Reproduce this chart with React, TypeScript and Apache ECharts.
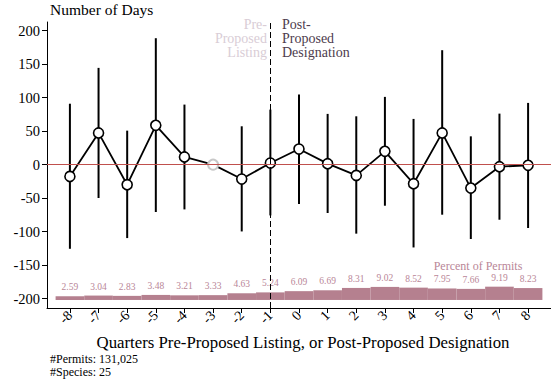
import React, { useEffect, useRef } from "react";
import * as echarts from "echarts";

// Quarters relative to the proposed listing / designation
const quarters = [-8, -7, -6, -5, -4, -3, -2, -1, 0, 1, 2, 3, 4, 5, 6, 7, 8];
// Estimated effect on number of days (quarter -3 is the reference quarter)
const meanDays = [-17.5, 47.4, -29.9, 58.8, 11.5, 0, -21.4, 2.5, 23.4, 1.5, -16, 19.9, -28.4, 47.4, -34.9, -3, -1];
const upperCI = [91, 144.5, 50.8, 188.8, 89.7, null, 57.3, 82.2, 104.6, 75.8, 72.2, 101.2, 68.3, 170.9, 42.3, 76.2, 92.2];
const lowerCI = [-125.6, -49.8, -109.6, -70.7, -66.8, null, -99.7, -75.8, -58.8, -72.2, -103, -61.3, -123.6, -74.7, -111, -82.2, -94.6];
// Share of permits falling in each quarter
const percentPermits = [2.59, 3.04, 2.83, 3.48, 3.21, 3.33, 4.63, 5.24, 6.09, 6.69, 8.31, 9.02, 8.52, 7.95, 7.66, 9.19, 8.23];
const yTicks = [-200, -150, -100, -50, 0, 50, 100, 150, 200];
const referenceQuarter = -3;
const eventQuarter = -1;

const SERIF = "serif";
const BAR_COLOR = "#b5808f";
const BAR_LABEL_COLOR = "#b98697";
// bars are drawn along the bottom of the plot, in y-axis units
const BAR_BASE = -202;
const BAR_UNIT = 2.16;

export default function App() {
  const ref = useRef<HTMLDivElement>(null);

  useEffect(() => {
    if (!ref.current) return;
    const chart = echarts.init(ref.current, null, { renderer: "svg" });

    const pointData = quarters.map((q, i) => {
      const isRef = q === referenceQuarter;
      return {
        value: [q, meanDays[i]],
        itemStyle: isRef
          ? { color: "#ffffff", borderColor: "#c8c8c8", borderWidth: 2 }
          : undefined,
      };
    });

    const ciData = quarters
      .map((q, i) => [q, lowerCI[i], upperCI[i]])
      .filter((d) => d[1] !== null && d[2] !== null);

    const barData = quarters.map((q, i) => [q, percentPermits[i]]);

    const option: echarts.EChartsOption = {
      animation: false,
      textStyle: { fontFamily: SERIF },
      grid: { left: 47, top: 22, width: 511, height: 286 },
      xAxis: {
        type: "value",
        min: -8.8,
        max: 8.8,
        splitLine: { show: false },
        axisLine: { onZero: false, lineStyle: { color: "#000", width: 1 } },
        axisTick: {
          show: true,
          length: 5,
          lineStyle: { color: "#000" },
          customValues: quarters,
        },
        axisLabel: {
          rotate: 45,
          margin: 5,
          color: "#000",
          fontFamily: SERIF,
          fontSize: 14,
          customValues: quarters,
        },
      },
      yAxis: {
        type: "value",
        min: -214,
        max: 213,
        splitLine: { show: false },
        axisLine: { show: true, onZero: false, lineStyle: { color: "#000", width: 1 } },
        axisTick: {
          show: true,
          length: 5,
          lineStyle: { color: "#000" },
          customValues: yTicks,
        },
        axisLabel: {
          margin: 7,
          color: "#000",
          fontFamily: SERIF,
          fontSize: 14.5,
          customValues: yTicks,
        },
      },
      series: [
        {
          // percent-of-permits strip
          type: "custom",
          z: 1,
          data: barData,
          renderItem: (params: any, api: any) => {
            const x = api.value(0);
            const p = api.value(1);
            const tl = api.coord([x - 0.5, BAR_BASE + p * BAR_UNIT]);
            const br = api.coord([x + 0.5, BAR_BASE]);
            return {
              type: "group",
              children: [
                {
                  type: "rect",
                  shape: { x: tl[0], y: tl[1], width: br[0] - tl[0], height: br[1] - tl[1] },
                  style: { fill: BAR_COLOR },
                },
                {
                  type: "text",
                  style: {
                    text: p.toFixed(2),
                    x: (tl[0] + br[0]) / 2,
                    y: tl[1] - 9,
                    align: "center",
                    verticalAlign: "middle",
                    fill: BAR_LABEL_COLOR,
                    fontSize: 9.5,
                    fontFamily: SERIF,
                  },
                },
              ],
            };
          },
        },
        {
          // confidence intervals
          type: "custom",
          z: 3,
          data: ciData,
          renderItem: (params: any, api: any) => {
            const x = api.value(0);
            const lo = api.coord([x, api.value(1)]);
            const hi = api.coord([x, api.value(2)]);
            return {
              type: "line",
              shape: { x1: lo[0], y1: lo[1], x2: hi[0], y2: hi[1] },
              style: { stroke: "#000", lineWidth: 2 },
            };
          },
        },
        {
          type: "line",
          z: 4,
          data: pointData,
          symbol: "circle",
          symbolSize: 10,
          lineStyle: { color: "#000", width: 1.8 },
          itemStyle: { color: "#ffffff", borderColor: "#000", borderWidth: 1.6 },
          markLine: {
            silent: true,
            symbol: "none",
            label: { show: false },
            data: [
              { yAxis: 0, lineStyle: { color: "#c0504d", width: 1, type: "solid" } },
              { xAxis: eventQuarter, lineStyle: { color: "#000", width: 1, type: [6, 3] } },
            ],
          },
        },
      ],
      graphic: [
        {
          type: "text",
          left: 50,
          top: 1,
          style: { text: "Number of Days", fontSize: 15.5, fontFamily: SERIF, fill: "#000" },
        },
        {
          type: "text",
          x: 267,
          y: 17,
          style: {
            text: "Pre-\nProposed\nListing",
            align: "right",
            fontSize: 14,
            lineHeight: 14.3,
            fontFamily: SERIF,
            fill: "#d9cdd6",
          },
        },
        {
          type: "text",
          x: 282,
          y: 17,
          style: {
            text: "Post-\nProposed\nDesignation",
            align: "left",
            fontSize: 14,
            lineHeight: 14.3,
            fontFamily: SERIF,
            fill: "#4d3c4d",
          },
        },
        {
          type: "text",
          x: 478,
          y: 266,
          style: {
            text: "Percent of Permits",
            align: "center",
            verticalAlign: "middle",
            fontSize: 12,
            fontFamily: SERIF,
            fill: BAR_LABEL_COLOR,
          },
        },
        {
          type: "text",
          x: 303,
          y: 342,
          style: {
            text: "Quarters Pre-Proposed Listing, or Post-Proposed Designation",
            align: "center",
            verticalAlign: "middle",
            fontSize: 16.8,
            fontFamily: SERIF,
            fill: "#000",
          },
        },
        {
          type: "text",
          x: 50,
          y: 352,
          style: {
            text: "#Permits: 131,025\n#Species: 25",
            fontSize: 12,
            lineHeight: 13.5,
            fontFamily: SERIF,
            fill: "#000",
          },
        },
      ],
    };

    chart.setOption(option);
    return () => chart.dispose();
  }, []);

  return <div ref={ref} style={{ width: 551, height: 383, position: "absolute", left: 0, top: 0 }} />;
}
